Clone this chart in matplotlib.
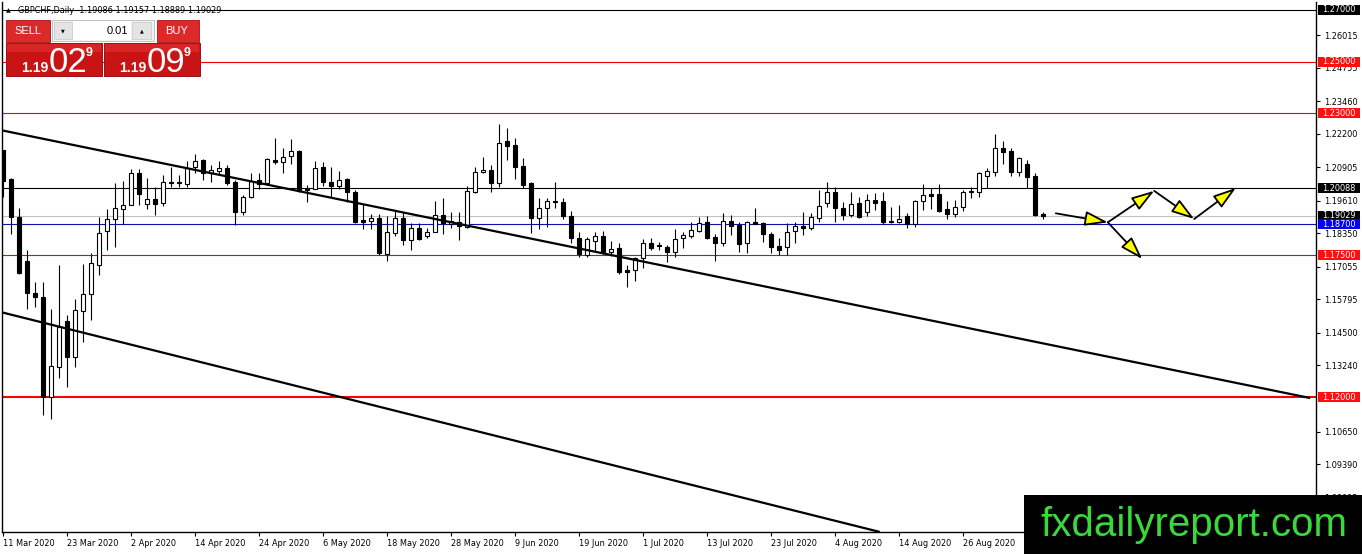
import numpy as np
import matplotlib
matplotlib.use("Agg")
import matplotlib.pyplot as plt
from matplotlib.patches import Rectangle, FancyArrowPatch

# ---------------- data ----------------
opens = [1.2157, 1.2045, 1.1898, 1.1727, 1.1603, 1.1588, 1.1200, 1.1316, 1.1495, 1.1355,
         1.1533, 1.1599, 1.1712, 1.1843, 1.1890, 1.1929, 1.1944, 1.2068, 1.1948, 1.1968,
         1.1952, 1.2033, 1.2029, 1.2026, 1.2092, 1.2119, 1.2068, 1.2076, 1.2088, 1.2033,
         1.1917, 1.1975, 1.2041, 1.2029, 1.2119, 1.2111, 1.2134, 1.2154, 1.2006, 1.2006,
         1.2092, 1.2033, 1.2018, 1.2045, 1.1995, 1.1886, 1.1882, 1.1894, 1.1754, 1.1836,
         1.1894, 1.1809, 1.1855, 1.1824, 1.1840, 1.1905, 1.1871, 1.1878, 1.1859, 1.1995,
         1.2072, 1.2080, 1.2029, 1.2192, 1.2177, 1.2095, 1.2029, 1.1894, 1.1933, 1.1960,
         1.1956, 1.1902, 1.1816, 1.1750, 1.1805, 1.1824, 1.1762, 1.1778, 1.1692, 1.1692,
         1.1739, 1.1797, 1.1789, 1.1781, 1.1762, 1.1816, 1.1824, 1.1843, 1.1878, 1.1820,
         1.1797, 1.1882, 1.1867, 1.1797, 1.1878, 1.1874, 1.1832, 1.1785, 1.1781, 1.1843,
         1.1863, 1.1855, 1.1894, 1.1952, 1.1995, 1.1933, 1.1905, 1.1952, 1.1917, 1.1964,
         1.1960, 1.1878, 1.1878, 1.1902, 1.1871, 1.1960, 1.1987, 1.1987, 1.1929, 1.1909,
         1.1936, 1.1995, 1.1995, 1.2057, 1.2072, 1.2165, 1.2154, 1.2072, 1.2103, 1.2057,
         1.19086]
highs = [1.2157, 1.2049, 1.1933, 1.1770, 1.1646, 1.1646, 1.1541, 1.1712, 1.1518, 1.1580,
         1.1716, 1.1758, 1.1898, 1.1929, 1.2029, 1.2037, 1.2084, 1.2084, 1.2049, 1.2014,
         1.2061, 1.2092, 1.2061, 1.2115, 1.2142, 1.2123, 1.2099, 1.2115, 1.2099, 1.2041,
         1.1983, 1.2068, 1.2068, 1.2126, 1.2204, 1.2165, 1.2200, 1.2157, 1.2022, 1.2115,
         1.2111, 1.2092, 1.2076, 1.2049, 1.2002, 1.1948, 1.1909, 1.1909, 1.1902, 1.1921,
         1.1917, 1.1874, 1.1874, 1.1855, 1.1960, 1.1971, 1.1917, 1.1917, 1.2018, 1.2092,
         1.2130, 1.2099, 1.2258, 1.2243, 1.2204, 1.2126, 1.2033, 1.1971, 1.1971, 1.2033,
         1.1971, 1.1921, 1.1840, 1.1820, 1.1840, 1.1843, 1.1805, 1.1797, 1.1712, 1.1743,
         1.1812, 1.1816, 1.1801, 1.1789, 1.1851, 1.1840, 1.1878, 1.1898, 1.1902, 1.1832,
         1.1913, 1.1905, 1.1878, 1.1882, 1.1933, 1.1878, 1.1840, 1.1816, 1.1874, 1.1878,
         1.1917, 1.1913, 1.2002, 1.2033, 1.2014, 1.1956, 1.1995, 1.1975, 1.1987, 1.1991,
         1.1995, 1.1936, 1.1944, 1.1913, 1.1964, 1.2026, 1.2010, 1.2026, 1.1960, 1.1964,
         1.2002, 1.2014, 1.2072, 1.2088, 1.2219, 1.2192, 1.2165, 1.2130, 1.2119, 1.2068,
         1.19157]
lows = [1.1975, 1.1832, 1.1677, 1.1541, 1.1549, 1.1130, 1.1115, 1.1274, 1.1239, 1.1316,
        1.1413, 1.1498, 1.1673, 1.1770, 1.1781, 1.1871, 1.1944, 1.1944, 1.1929, 1.1905,
        1.1940, 1.2014, 1.2014, 1.2014, 1.2068, 1.2041, 1.2033, 1.2061, 1.2022, 1.1867,
        1.1905, 1.1971, 1.2006, 1.2022, 1.2103, 1.2068, 1.2103, 1.1995, 1.1956, 1.2006,
        1.2018, 1.1975, 1.2006, 1.1956, 1.1876, 1.1851, 1.1851, 1.1750, 1.1727, 1.1824,
        1.1789, 1.1770, 1.1809, 1.1816, 1.1840, 1.1832, 1.1855, 1.1809, 1.1855, 1.1991,
        1.2068, 1.1995, 1.2014, 1.2119, 1.2045, 1.2010, 1.1836, 1.1851, 1.1859, 1.1933,
        1.1890, 1.1797, 1.1743, 1.1743, 1.1766, 1.1754, 1.1747, 1.1677, 1.1626, 1.1650,
        1.1700, 1.1770, 1.1770, 1.1723, 1.1743, 1.1778, 1.1816, 1.1840, 1.1812, 1.1727,
        1.1785, 1.1828, 1.1762, 1.1758, 1.1869, 1.1801, 1.1758, 1.1750, 1.1750, 1.1797,
        1.1828, 1.1847, 1.1878, 1.1936, 1.1878, 1.1886, 1.1898, 1.1894, 1.1902, 1.1925,
        1.1871, 1.1874, 1.1874, 1.1855, 1.1859, 1.1925, 1.1929, 1.1917, 1.1890, 1.1898,
        1.1921, 1.1971, 1.1975, 1.2010, 1.2057, 1.2103, 1.2057, 1.2057, 1.2010, 1.1903,
        1.18889]
closes = [1.2037, 1.1898, 1.1681, 1.1603, 1.1588, 1.1200, 1.1320, 1.1471, 1.1355, 1.1537,
          1.1599, 1.1719, 1.1836, 1.1890, 1.1933, 1.1944, 1.2068, 1.1987, 1.1968, 1.1948,
          1.2033, 1.2031, 1.2032, 1.2088, 1.2115, 1.2068, 1.2080, 1.2088, 1.2029, 1.1917,
          1.1975, 1.2037, 1.2026, 1.2123, 1.2111, 1.2130, 1.2154, 1.1998, 1.2004, 1.2088,
          1.2033, 1.2018, 1.2041, 1.1995, 1.1878, 1.1878, 1.1894, 1.1758, 1.1840, 1.1894,
          1.1809, 1.1855, 1.1812, 1.1840, 1.1905, 1.1874, 1.1882, 1.1863, 1.1998, 1.2072,
          1.2080, 1.2029, 1.2185, 1.2173, 1.2092, 1.2022, 1.1894, 1.1933, 1.1960, 1.1956,
          1.1902, 1.1816, 1.1754, 1.1812, 1.1824, 1.1762, 1.1774, 1.1685, 1.1685, 1.1739,
          1.1797, 1.1778, 1.1785, 1.1762, 1.1812, 1.1828, 1.1847, 1.1874, 1.1816, 1.1797,
          1.1882, 1.1863, 1.1793, 1.1878, 1.1871, 1.1832, 1.1781, 1.1770, 1.1840, 1.1863,
          1.1855, 1.1898, 1.1940, 1.1995, 1.1933, 1.1905, 1.1948, 1.1898, 1.1964, 1.1952,
          1.1878, 1.1880, 1.1890, 1.1871, 1.1960, 1.1983, 1.1979, 1.1921, 1.1909, 1.1936,
          1.1995, 1.1997, 1.2068, 1.2076, 1.2165, 1.2150, 1.2072, 1.2126, 1.2053, 1.1905,
          1.19029]

date_tick_pos = [0, 8, 16, 24, 32, 40, 48, 56, 64, 72, 80, 88, 96, 104, 112, 120]
date_tick_labels = ["11 Mar 2020", "23 Mar 2020", "2 Apr 2020", "14 Apr 2020", "24 Apr 2020",
                    "6 May 2020", "18 May 2020", "28 May 2020", "9 Jun 2020", "19 Jun 2020",
                    "1 Jul 2020", "13 Jul 2020", "23 Jul 2020", "4 Aug 2020", "14 Aug 2020",
                    "26 Aug 2020"]
price_ticks = [1.26015, 1.24755, 1.23460, 1.22200, 1.20905, 1.19610, 1.18350, 1.17055,
               1.15795, 1.14500, 1.13240, 1.10650, 1.09390, 1.08095]

levels = [1.27000, 1.25000, 1.23000, 1.20088, 1.19029, 1.18700, 1.17500, 1.12000]
level_line_colors = ["black", "#ee0000", "#ee0000", "black", "#c0c0c0", "#1010b0", "#ee0000", "#ff0000"]
level_label_colors = ["black", "#ff1010", "#ff1010", "black", "black", "#0000ff", "#ff1010", "#ff1010"]
level_widths = [0.8, 0.8, 0.8, 0.8, 0.8, 0.8, 0.8, 1.5]

trend_upper_t = [-0.375, 163.4]
trend_upper_p = [1.2235, 1.1196]
trend_lower_t = [-0.375, 109.6]
trend_lower_p = [1.1530, 1.0677]

arrow_segments = [((131.6, 1.1912), (138.1, 1.1877)),
                  ((138.1, 1.1877), (143.9, 1.1999)),
                  ((143.9, 1.1999), (148.9, 1.1890)),
                  ((148.9, 1.1890), (154.1, 1.2010)),
                  ((138.1, 1.1877), (142.4, 1.1735))]

header_text = "GBPCHF,Daily  1.19086 1.19157 1.18889 1.19029"

# ---------------- figure ----------------
W, H = 1362, 554
fig = plt.figure(figsize=(W / 100, H / 100), dpi=100)
fig.patch.set_facecolor("white")
ax_l, ax_r, ax_t, ax_b = 2, 1316, 2, 532
ax = fig.add_axes([ax_l / W, 1 - ax_b / H, (ax_r - ax_l) / W, (ax_b - ax_t) / H])
ax.set_facecolor("white")

FS = 5.9
x = np.arange(len(opens))
o = np.array(opens); h = np.array(highs); l = np.array(lows); c = np.array(closes)

ax.vlines(x, l, h, color="black", linewidth=0.8, zorder=3)
up = c >= o
bottoms = np.minimum(o, c)
heights = np.maximum(np.abs(c - o), 0.00025)
ax.bar(x[up], heights[up], bottom=bottoms[up], width=0.56, color="white",
       edgecolor="black", linewidth=0.8, zorder=4)
ax.bar(x[~up], heights[~up], bottom=bottoms[~up], width=0.56, color="black",
       edgecolor="black", linewidth=0.8, zorder=4)

# horizontal levels
for lv, lc, lw in zip(levels, level_line_colors, level_widths):
    ax.axhline(lv, color=lc, linewidth=lw, zorder=2)

# trendlines
ax.plot(trend_upper_t, trend_upper_p, color="black", linewidth=1.6, zorder=5,
        solid_capstyle="butt")
ax.plot(trend_lower_t, trend_lower_p, color="black", linewidth=1.6, zorder=5,
        solid_capstyle="butt")

# arrows
for (p0, p1) in arrow_segments:
    arr = FancyArrowPatch(p0, p1, arrowstyle="-|>,head_length=14,head_width=4.5",
                          mutation_scale=1, shrinkA=0, shrinkB=0,
                          facecolor="#ffff00", edgecolor="black", linewidth=1.3,
                          zorder=6)
    ax.add_patch(arr)

ax.set_xlim(-0.125, 164.125)
ax.set_ylim(1.06768, 1.27310)

# axes styling
for s in ["left", "bottom", "right"]:
    ax.spines[s].set_color("black")
    ax.spines[s].set_linewidth(1.0)
ax.spines["top"].set_visible(False)

ax.yaxis.tick_right()
ax.set_yticks(price_ticks)
ax.set_yticklabels([f"{v:.5f}" for v in price_ticks])
ax.tick_params(axis="y", direction="out", length=3, width=0.8, pad=2.5,
               labelsize=FS, colors="black")
ax.set_xticks(date_tick_pos)
ax.set_xticklabels(date_tick_labels)
ax.tick_params(axis="x", direction="out", length=3, width=0.8, pad=2,
               labelsize=FS, colors="black")
for lbl in ax.get_xticklabels():
    lbl.set_horizontalalignment("left")

# price labels on right axis
ytr = ax.get_yaxis_transform()
px_ax = 1.0 / (ax_r - ax_l)
box_h = 10 * (0.20542 / 530)
for lv, bc in zip(levels, level_label_colors):
    ax.add_patch(Rectangle((1 + 2 * px_ax, lv - box_h / 2), 42 * px_ax, box_h,
                           transform=ytr, facecolor=bc, edgecolor="none",
                           clip_on=False, zorder=10))
    ax.text(1 + 6 * px_ax, lv, f"{lv:.5f}", transform=ytr, color="white",
            fontsize=FS, va="center", ha="left", clip_on=False, zorder=11)

# ---------------- overlays (figure pixels) ----------------
def fx(px):
    return px / W

def fy(py):
    return 1 - py / H

def frect(x0, y0, x1, y1, fc, ec="none", lw=0.0, z=20):
    fig.add_artist(Rectangle((fx(x0), fy(y1)), fx(x1) - fx(x0), fy(y0) - fy(y1),
                             transform=fig.transFigure, facecolor=fc, edgecolor=ec,
                             linewidth=lw, zorder=z))

def ftext(px, py, s, **kw):
    kw.setdefault("zorder", 25)
    fig.text(fx(px), fy(py), s, **kw)

# header
ftext(6, 10.5, "\u25b2", fontsize=4.5, va="center", ha="left", color="black")
ftext(18, 10.5, header_text, fontsize=FS, va="center", ha="left", color="black")

# one-click trading panel
frect(6, 20, 50, 42, "#dc2a2a", "#b01010", 0.6)
ftext(28, 31, "SELL", fontsize=8, color="white", ha="center", va="center",
      family="Liberation Sans")
frect(52, 20, 154, 41, "#f2f2f2", "#b8b8b8", 0.6)
frect(54, 22, 72, 39, "#e4e4e4", "#c8c8c8", 0.5, z=21)
frect(73, 21, 131, 40, "white", "none", 0, z=21)
frect(132, 22, 151, 39, "#e4e4e4", "#c8c8c8", 0.5, z=21)
ftext(63, 30.5, "\u25bc", fontsize=3.5, ha="center", va="center", color="black")
ftext(141.5, 30.5, "\u25b2", fontsize=3.5, ha="center", va="center", color="black")
ftext(128, 30.5, "0.01", fontsize=8, ha="right", va="center", color="black",
      family="Liberation Sans")
frect(157, 20, 199, 42, "#dc2a2a", "#b01010", 0.6)
ftext(177, 31, "BUY", fontsize=8, color="white", ha="center", va="center",
      family="Liberation Sans")

for x0, big in [(6, "02"), (104, "09")]:
    frect(x0, 43, x0 + 96, 76, "#c81414", "#8c0000", 0.6)
    frect(x0 + 1, 44, x0 + 95, 52, "#d82424", "none", 0, z=20.5)
    ftext(x0 + 15, 72, "1.19", fontsize=10, color="white", ha="left", va="baseline",
          family="Liberation Sans", weight="bold")
    ftext(x0 + 43, 72, big, fontsize=25, color="white", ha="left", va="baseline",
          family="Liberation Sans")
    ftext(x0 + 80, 56, "9", fontsize=9, color="white", ha="left", va="baseline",
          family="Liberation Sans", weight="bold")

# watermark
frect(1024, 495, 1362, 554, "black", "none", 0, z=30)
ftext(1040, 536, "fxdailyreport.com", fontsize=29, color="#3ad83a", ha="left",
      va="baseline", family="Liberation Sans", zorder=31)

fig.savefig("out.png", dpi=100, facecolor="white")
